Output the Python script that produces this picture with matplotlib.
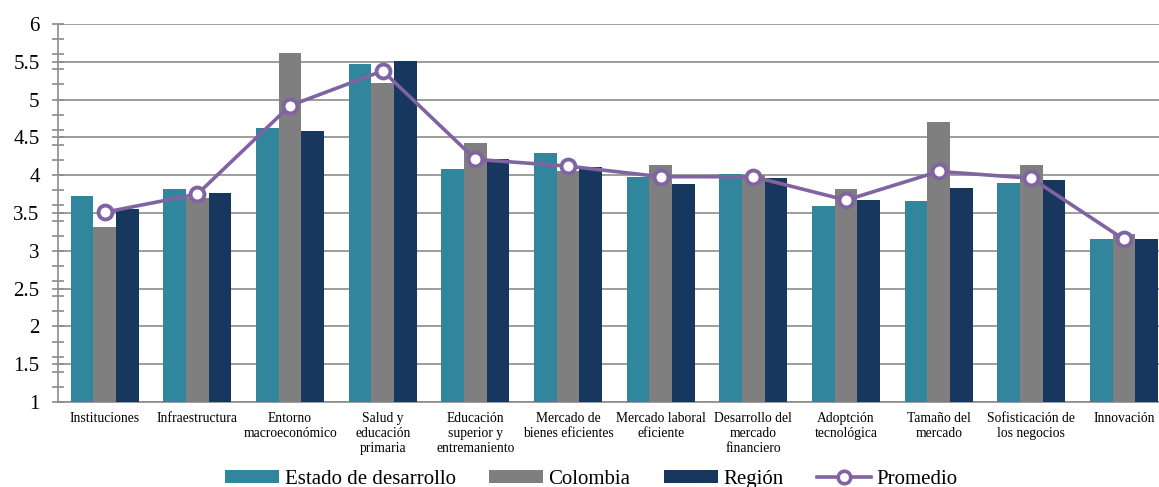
import matplotlib
matplotlib.use("Agg")
import matplotlib.pyplot as plt
import numpy as np
from matplotlib.ticker import MultipleLocator, FormatStrFormatter
from matplotlib.lines import Line2D
from matplotlib.patches import Patch

categories = ["Instituciones", "Infraestructura", "Entorno\nmacroeconómico",
              "Salud y\neducación\nprimaria", "Educación\nsuperior y\nentremaniento",
              "Mercado de\nbienes eficientes", "Mercado laboral\neficiente",
              "Desarrollo del\nmercado\nfinanciero", "Adoptción\ntecnológica",
              "Tamaño del\nmercado", "Sofisticación de\nlos negocios", "Innovación"]
estado = [3.72, 3.82, 4.62, 5.47, 4.08, 4.30, 3.97, 4.02, 3.59, 3.66, 3.90, 3.15]
colombia = [3.32, 3.70, 5.62, 5.22, 4.42, 4.05, 4.13, 4.00, 3.82, 4.71, 4.13, 3.22]
region = [3.55, 3.77, 4.59, 5.51, 4.21, 4.11, 3.89, 3.96, 3.67, 3.83, 3.94, 3.15]
promedio = [3.51, 3.75, 4.92, 5.38, 4.21, 4.12, 3.98, 3.98, 3.67, 4.05, 3.96, 3.15]
series_names = ["Estado de desarrollo", "Colombia", "Región", "Promedio"]

c_teal = "#31859C"
c_gray = "#7F7F7F"
c_navy = "#17375E"
c_purple = "#8064A2"

plt.rcParams['font.family'] = ['Liberation Serif', 'DejaVu Serif']

fig = plt.figure(figsize=(11.59, 4.87), dpi=100)
ax = fig.add_axes([58.4/1159, 1-402/487, 1112/1159, 378/487])

x = np.arange(len(categories))
w = 0.245
ax.bar(x - w, estado, w, color=c_teal, zorder=3)
ax.bar(x, colombia, w, color=c_gray, zorder=3)
ax.bar(x + w, region, w, color=c_navy, zorder=3)
ax.plot(x, promedio, color=c_purple, lw=2.6, marker='o', markersize=10,
        markerfacecolor='white', markeredgecolor=c_purple, markeredgewidth=2.8, zorder=5)

ax.set_xlim(-0.5, len(categories) - 0.5)
ax.set_ylim(1, 6)
ax.yaxis.set_major_locator(MultipleLocator(0.5))
ax.yaxis.set_minor_locator(MultipleLocator(0.2))
ax.yaxis.set_major_formatter(FormatStrFormatter('%g'))
ax.grid(axis='y', which='major', color='#8C8C8C', lw=1.2, zorder=0)
ax.tick_params(axis='y', which='major', direction='inout', length=9, width=1.2,
               color='#8C8C8C', labelsize=15, pad=9)
ax.tick_params(axis='y', which='minor', direction='inout', length=9, width=1.2, color='#8C8C8C')
ax.set_xticks(x)
ax.set_xticklabels(categories, fontsize=9.8, linespacing=1.2)
ax.tick_params(axis='x', length=0, pad=7)
for s in ['top', 'right']:
    ax.spines[s].set_visible(False)
for s in ['left', 'bottom']:
    ax.spines[s].set_color('#8C8C8C')
    ax.spines[s].set_linewidth(1.2)

handles = [Patch(facecolor=c_teal), Patch(facecolor=c_gray), Patch(facecolor=c_navy),
           Line2D([0], [0], color=c_purple, lw=2.6, marker='o', markersize=9,
                  markerfacecolor='white', markeredgecolor=c_purple, markeredgewidth=2.6)]
fig.legend(handles, series_names, loc='center', bbox_to_anchor=(0.51, 0.016),
           ncol=4, frameon=False, fontsize=15, handlelength=2.6, handleheight=0.65,
           handletextpad=0.25, columnspacing=1.6, borderaxespad=0, borderpad=0)

fig.savefig("out.png", dpi=100)
